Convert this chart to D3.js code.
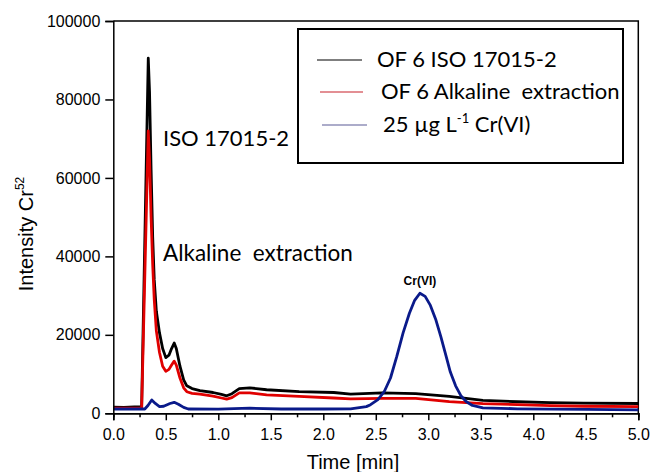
<!DOCTYPE html>
<html>
<head>
<meta charset="utf-8">
<script src="https://cdn.jsdelivr.net/npm/d3@7"></script>
<style>
  html, body { margin: 0; padding: 0; background: #fff; }
  text { white-space: pre; }
</style>
</head>
<body>
<svg id="chart" width="651" height="472"></svg>
<script>
// ---------- DATA ----------
const seriesNames = ["OF 6 ISO 17015-2", "OF 6 Alkaline  extraction", "25 µg L-1 Cr(VI)"];
const xTicks = [0, 0.5, 1, 1.5, 2, 2.5, 3, 3.5, 4, 4.5, 5];
const yTicks = [0, 20000, 40000, 60000, 80000, 100000];

// [time (min), intensity]
const isoSeries = [
  [0,1550],[0.1,1500],[0.2,1600],[0.27,1600],[0.333,90500],[0.345,82000],[0.36,62000],
  [0.375,45000],[0.39,34000],[0.41,26000],[0.44,20500],[0.47,16500],[0.50,14200],
  [0.53,14800],[0.555,16500],[0.58,17900],[0.60,16500],[0.635,12000],[0.67,8500],
  [0.70,7000],[0.75,6300],[0.825,5800],[0.95,5300],[1.03,4800],[1.08,4460],[1.13,5000],
  [1.2,6300],[1.3,6500],[1.46,6000],[1.77,5550],[2.1,5300],[2.26,4900],[2.56,5200],
  [2.88,5000],[3.2,4300],[3.52,3300],[3.85,2950],[4.16,2700],[4.48,2600],[5.0,2500]
];
const alkalineSeries = [
  [0,1300],[0.27,1300],[0.333,72000],[0.345,65000],[0.36,50000],[0.375,38000],[0.39,29000],
  [0.41,21000],[0.44,15500],[0.47,12000],[0.50,10700],[0.53,11200],[0.555,12300],
  [0.58,13300],[0.60,12300],[0.635,9000],[0.67,6500],[0.70,5500],[0.75,5100],[0.825,4900],
  [0.95,4400],[1.03,3900],[1.08,3600],[1.13,4000],[1.2,5200],[1.3,5200],[1.46,4700],
  [1.77,4300],[2.1,3900],[2.26,3700],[2.56,3800],[2.88,3800],[3.2,3000],[3.52,2450],
  [3.85,2200],[4.16,1950],[4.48,1800],[5.0,1700]
];
const crviSeries = [
  [0,1100],[0.3,1100],[0.33,2000],[0.366,3400],[0.40,2500],[0.44,1700],[0.48,1800],
  [0.54,2500],[0.58,2800],[0.62,2300],[0.67,1500],[0.714,1100],[1.0,1050],[1.3,1300],
  [1.6,1100],[2.0,1100],[2.26,1150],[2.41,1700],[2.45,2200],[2.52,3500],[2.58,5500],
  [2.64,9000],[2.7,14500],[2.76,20500],[2.82,25500],[2.87,28800],[2.92,30600],[2.97,29800],
  [3.02,27500],[3.07,24000],[3.12,19500],[3.17,14500],[3.21,10500],[3.26,7000],[3.31,4500],
  [3.36,3000],[3.42,2000],[3.52,1400],[3.85,1150],[4.5,1000],[5.0,850]
];

// ---------- LAYOUT ----------
const svg = d3.select("#chart");
svg.append("rect").attr("width", 651).attr("height", 472).attr("fill", "#fff");

const x = d3.scaleLinear().domain([0, 5]).range([113.3, 638.3]);
const y = d3.scaleLinear().domain([0, 100000]).range([413.3, 21]);

const axisFont = "'Liberation Sans', Arial, sans-serif";
const calFont = "Lato, 'Open Sans', sans-serif";

// frame (top and right)
svg.append("path")
  .attr("d", `M${x(0)},${y(100000)}H${x(5)}V${y(0)}`)
  .attr("fill", "none").attr("stroke", "#000").attr("stroke-width", 1.5);

// lines
const line = d3.line().x(d => x(d[0])).y(d => y(d[1]));
const series = [
  { data: isoSeries, color: "#000000" },
  { data: alkalineSeries, color: "#e00000" },
  { data: crviSeries, color: "#0a1a8a" }
];
svg.append("g").selectAll("path").data(series).join("path")
  .attr("d", d => line(d.data))
  .attr("fill", "none")
  .attr("stroke", d => d.color)
  .attr("stroke-width", 2.8)
  .attr("stroke-linejoin", "round");

// x axis
const xMinor = svg.append("g").attr("transform", `translate(0,${y(0)})`)
  .call(d3.axisBottom(x).tickValues(d3.range(0.25, 5, 0.5)).tickSize(4).tickFormat(""));
const xAxis = svg.append("g").attr("transform", `translate(0,${y(0)})`)
  .call(d3.axisBottom(x).tickValues(xTicks).tickSize(7).tickPadding(8).tickFormat(d3.format(".1f")));
[xMinor, xAxis].forEach(g => {
  g.select(".domain").attr("stroke", "#000").attr("stroke-width", 1.5);
  g.selectAll(".tick line").attr("stroke", "#000").attr("stroke-width", 1.5);
});
xAxis.selectAll(".tick text").attr("font-family", axisFont).attr("font-size", 16).attr("fill", "#000");

// y axis
const yAxis = svg.append("g").attr("transform", `translate(${x(0)},0)`)
  .call(d3.axisLeft(y).tickValues(yTicks).tickSize(8).tickPadding(5).tickFormat(d3.format("d")));
yAxis.select(".domain").attr("stroke", "#000").attr("stroke-width", 1.5);
yAxis.selectAll(".tick line").attr("stroke", "#000").attr("stroke-width", 1.5);
yAxis.selectAll(".tick text").attr("font-family", axisFont).attr("font-size", 16).attr("fill", "#000");

// axis titles
svg.append("text")
  .attr("x", x(2.283)).attr("y", 469)
  .attr("text-anchor", "middle")
  .attr("font-family", axisFont).attr("font-size", 20)
  .text("Time [min]");

const yTitle = svg.append("text")
  .attr("transform", "translate(33,234) rotate(-90)")
  .attr("text-anchor", "middle")
  .attr("font-family", axisFont).attr("font-size", 20);
yTitle.append("tspan").text("Intensity Cr");
yTitle.append("tspan").attr("font-size", 12).attr("dy", -9).text("52");

// annotations
svg.append("text").attr("x", 163).attr("y", 146)
  .attr("font-family", calFont).attr("font-size", 22).text("ISO 17015-2");
svg.append("text").attr("x", 163).attr("y", 261)
  .attr("font-family", calFont).attr("font-size", 22.5).text("Alkaline  extraction");
svg.append("text").attr("x", x(2.92)).attr("y", 285)
  .attr("text-anchor", "middle")
  .attr("font-family", axisFont).attr("font-size", 12).attr("font-weight", "bold")
  .text("Cr(VI)");

// legend
const legend = svg.append("g");
legend.append("rect").attr("x", 298).attr("y", 29).attr("width", 325).attr("height", 134)
  .attr("fill", "#fff").attr("stroke", "#000").attr("stroke-width", 2);
const legendRows = [
  { name: seriesNames[0], color: "#000", ly: 60, x1: 317, x2: 362, tx: 377, ty: 67 },
  { name: seriesNames[1], color: "#c8202a", ly: 92, x1: 320, x2: 363, tx: 381, ty: 99 },
  { name: seriesNames[2], color: "#5a5a96", ly: 125, x1: 322, x2: 367, tx: 383, ty: 132 }
];
legend.selectAll("line").data(legendRows).join("line")
  .attr("x1", d => d.x1).attr("x2", d => d.x2)
  .attr("y1", d => d.ly).attr("y2", d => d.ly)
  .attr("stroke", d => d.color).attr("stroke-width", 1.2);
legendRows.forEach((d, i) => {
  const t = legend.append("text").attr("x", d.tx).attr("y", d.ty)
    .attr("font-family", calFont).attr("font-size", 22);
  if (i < 2) {
    t.text(d.name);
  } else {
    t.append("tspan").text("25 µg L");
    t.append("tspan").attr("font-size", 13).attr("dy", -9).text("-1");
    t.append("tspan").attr("dy", 9).text(" Cr(VI)");
  }
});
</script>
</body>
</html>
